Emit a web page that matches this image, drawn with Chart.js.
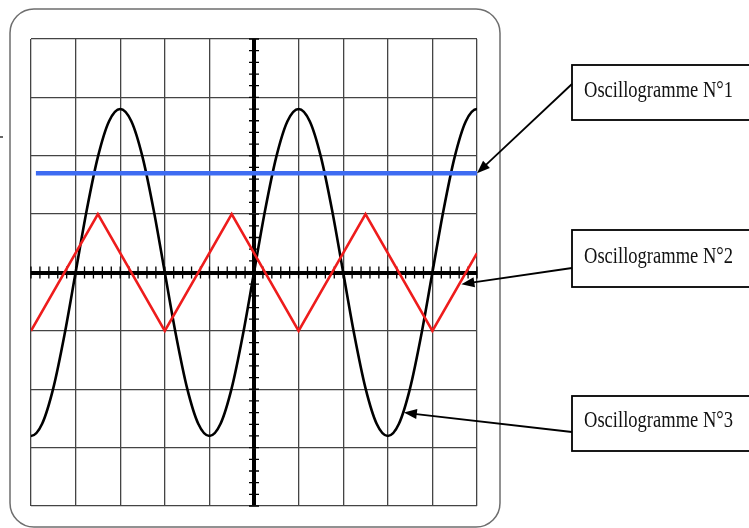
<!DOCTYPE html>
<html>
<head>
<meta charset="utf-8">
<script src="https://cdn.jsdelivr.net/npm/chart.js@4.4.1/dist/chart.umd.min.js"></script>
<style>
  html, body { margin: 0; padding: 0; background: #fff; }
  #wrap { width: 749px; height: 528px; }
</style>
</head>
<body>
<div id="wrap"><canvas id="osc" width="749" height="528"></canvas></div>
<script>
const sinX = [-5.5, -5.25, -5, -4.75, -4.5, -4.25, -4, -3.75, -3.5, -3.25, -3, -2.75, -2.5, -2.25, -2, -1.75,
              -1.5, -1.25, -1, -0.75, -0.5, -0.25, 0, 0.25, 0.5, 0.75, 1, 1.25, 1.5, 1.75, 2, 2.25,
              2.5, 2.75, 3, 3.25, 3.5, 3.75, 4, 4.25, 4.5, 4.75, 5, 5.25, 5.5];
const sinY = [-1.98, -2.59, -2.8, -2.59, -1.98, -1.07, 0, 1.07, 1.98, 2.59, 2.8, 2.59, 1.98, 1.07, 0, -1.07,
              -1.98, -2.59, -2.8, -2.59, -1.98, -1.07, 0, 1.07, 1.98, 2.59, 2.8, 2.59, 1.98, 1.07, 0, -1.07,
              -1.98, -2.59, -2.8, -2.59, -1.98, -1.07, 0, 1.07, 1.98, 2.59, 2.8, 2.59, 1.98];
const triX = [-5, -3.5, -2, -0.5, 1, 2.5, 4, 5];
const triY = [-1, 1, -1, 1, -1, 1, -1, 0.33];
const dcX = [-4.89, 5];
const dcY = [1.7, 1.7];
const labels = ['Oscillogramme N°1', 'Oscillogramme N°2', 'Oscillogramme N°3'];
// points visés par les flèches (divisions)
const cibleX = [5, 4.65, 3.36];
const cibleY = [1.7, -0.2, -2.4];

const pts = (xs, ys) => xs.map((x, i) => ({ x: x, y: ys[i] }));

// -----------------------------
// Petites graduations sur les axes centraux
// -----------------------------
const graduations = {
    id: 'graduations',
    beforeDatasetsDraw(chart) {
        const { ctx, scales: { x, y } } = chart;
        const x0 = x.getPixelForValue(0);
        const y0 = y.getPixelForValue(0);
        ctx.save();
        ctx.strokeStyle = '#000';
        ctx.lineWidth = 1.3;
        ctx.beginPath();
        for (let i = -25; i <= 25; i++) {
            if (i === 0) continue;
            const px = x.getPixelForValue(i / 5);
            ctx.moveTo(px, y0 - 6);
            ctx.lineTo(px, y0 + 6);
        }
        for (let j = -20; j <= 20; j++) {
            if (j === 0) continue;
            const py = y.getPixelForValue(j / 5);
            ctx.moveTo(x0 - 5, py);
            ctx.lineTo(x0 + 5, py);
        }
        ctx.stroke();
        ctx.restore();
    }
};

// -----------------------------
// Cadre arrondi, étiquettes et flèches
// -----------------------------
function fleche(ctx, x1, y1, x2, y2) {
    const a = Math.atan2(y2 - y1, x2 - x1);
    const L = 13, W = 5;
    ctx.beginPath();
    ctx.moveTo(x1, y1);
    ctx.lineTo(x2 - L * 0.8 * Math.cos(a), y2 - L * 0.8 * Math.sin(a));
    ctx.stroke();
    ctx.beginPath();
    ctx.moveTo(x2, y2);
    ctx.lineTo(x2 - L * Math.cos(a) + W * Math.sin(a), y2 - L * Math.sin(a) - W * Math.cos(a));
    ctx.lineTo(x2 - L * Math.cos(a) - W * Math.sin(a), y2 - L * Math.sin(a) + W * Math.cos(a));
    ctx.closePath();
    ctx.fill();
}

const annotations = {
    id: 'annotations',
    afterDraw(chart) {
        const { ctx, scales: { x, y } } = chart;
        ctx.save();
        // cadre de l'écran
        ctx.strokeStyle = '#6e6e6e';
        ctx.lineWidth = 1.5;
        ctx.beginPath();
        ctx.roundRect(10, 9, 490, 518, 24);
        ctx.stroke();
        // petit trait à gauche du cadre
        ctx.strokeStyle = '#333';
        ctx.lineWidth = 1.5;
        ctx.beginPath();
        ctx.moveTo(0, 137);
        ctx.lineTo(3, 137);
        ctx.stroke();

        // boites
        const boites = [[65, 120], [230, 287], [396, 451]];
        const depart = [84, 268, 432];
        ctx.strokeStyle = '#000';
        ctx.fillStyle = '#000';
        ctx.lineWidth = 1.8;
        boites.forEach((b, i) => {
            ctx.strokeRect(572, b[0], 190, b[1] - b[0]);
            ctx.font = '23px "Liberation Serif"';
            ctx.textBaseline = 'alphabetic';
            ctx.fillStyle = '#111';
            ctx.fillText(labels[i], 584, [97, 263, 427][i], 149);
            ctx.fillStyle = '#000';
            ctx.lineWidth = 1.8;
            fleche(ctx, 572, depart[i], x.getPixelForValue(cibleX[i]), y.getPixelForValue(cibleY[i]));
        });
        ctx.restore();
    }
};

new Chart(document.getElementById('osc'), {
    type: 'scatter',
    data: {
        datasets: [
            {
                data: pts(dcX, dcY),
                showLine: true,
                borderColor: '#3e6cf2',
                borderWidth: 4.5,
                pointRadius: 0
            },
            {
                data: pts(triX, triY),
                showLine: true,
                borderColor: '#ee1c1c',
                borderWidth: 2.6,
                pointRadius: 0
            },
            {
                data: pts(sinX, sinY),
                showLine: true,
                cubicInterpolationMode: 'monotone',
                borderColor: '#000',
                borderWidth: 2.6,
                pointRadius: 0
            }
        ]
    },
    options: {
        responsive: false,
        animation: false,
        layout: { padding: { left: 31, top: 39, right: 272, bottom: 22 } },
        plugins: { legend: { display: false }, tooltip: { enabled: false } },
        scales: {
            x: {
                type: 'linear', min: -5, max: 5,
                ticks: { stepSize: 1, display: false },
                border: { display: false },
                grid: {
                    drawTicks: false,
                    color: c => c.tick && c.tick.value === 0 ? '#000' : '#444',
                    lineWidth: c => c.tick && c.tick.value === 0 ? 4 : 1.3
                }
            },
            y: {
                type: 'linear', min: -4, max: 4,
                ticks: { stepSize: 1, display: false },
                border: { display: false },
                grid: {
                    drawTicks: false,
                    color: c => c.tick && c.tick.value === 0 ? '#000' : '#444',
                    lineWidth: c => c.tick && c.tick.value === 0 ? 4 : 1.3
                }
            }
        }
    },
    plugins: [graduations, annotations]
});
</script>
</body>
</html>
